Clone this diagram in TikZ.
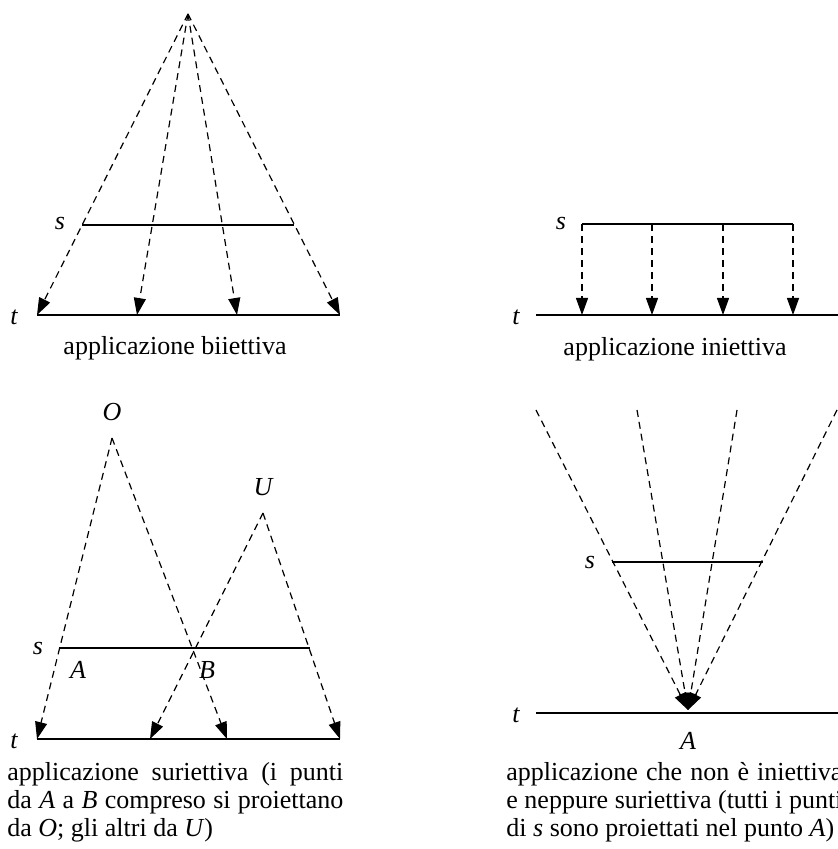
\documentclass[tikz,border=0pt]{standalone}
\usepackage{fontspec}
\setmainfont{Liberation Serif}
\usetikzlibrary{arrows.meta}

\newcommand{\testo}{\fontsize{13}{14}\selectfont}
\tikzset{
  proj/.style={dash pattern=on 3.5pt off 2.5pt, line width=0.6pt, -{Triangle[length=8.5pt,width=6pt]}},
  retta/.style={line width=1.3pt},
  lbl/.style={inner sep=0pt, font=\testo\itshape},
  didascalia/.style={inner sep=0pt, text width=168pt, align=justify, anchor=north west},
}

\begin{document}
\begin{tikzpicture}[x=0.5pt, y=-0.5pt, font=\testo]
  \useasboundingbox (0,0) rectangle (838,849);

  % Applicazione biiettiva
  \coordinate (V) at (188,14);
  \coordinate (s1a) at (82,225);
  \coordinate (s1b) at (294,225);
  \coordinate (t1a) at (37,315);
  \coordinate (t1b) at (340,315);
  \draw[retta] (s1a) -- (s1b);
  \draw[retta] (t1a) -- (t1b);
  \foreach \x [count=\i] in {37,137,237,340} {
    \coordinate (p1\i) at (\x,315);
    \draw[proj] (V) -- (p1\i);
  }
  \node[lbl] (ls1) at (60,224) {s};
  \node[lbl] (lt1) at (14,317) {t};
  \node[inner sep=0pt] (cap1) at (175,348) {applicazione biiettiva};

  % Applicazione iniettiva
  \coordinate (s2a) at (582,224);
  \coordinate (s2b) at (793,224);
  \coordinate (t2a) at (536,315);
  \coordinate (t2b) at (850,315);
  \draw[retta] (s2a) -- (s2b);
  \draw[retta] (t2a) -- (t2b);
  \foreach \x [count=\i] in {582,652,723,793} {
    \coordinate (q2\i) at (\x,224);
    \coordinate (p2\i) at (\x,315);
    \draw[proj] (q2\i) -- (p2\i);
  }
  \node[lbl] (ls2) at (561,224) {s};
  \node[lbl] (lt2) at (516,317) {t};
  \node[inner sep=0pt] (cap2) at (675,349) {applicazione iniettiva};

  % Applicazione suriettiva
  \coordinate (O) at (112,438);
  \coordinate (U) at (263,513);
  \coordinate (s3a) at (59,648);
  \coordinate (s3b) at (310,648);
  \coordinate (t3a) at (37,739);
  \coordinate (t3b) at (340,739);
  \draw[retta] (s3a) -- (s3b);
  \draw[retta] (t3a) -- (t3b);
  \coordinate (p31) at (37,739);
  \coordinate (p32) at (227,739);
  \coordinate (p33) at (150,739);
  \coordinate (p34) at (340,739);
  \draw[proj] (O) -- (p31);
  \draw[proj] (O) -- (p32);
  \draw[proj] (U) -- (p33);
  \draw[proj] (U) -- (p34);
  \node[lbl] (lO) at (112,412) {O};
  \node[lbl] (lU) at (263,487) {U};
  \node[lbl] (lA3) at (78,670) {A};
  \node[lbl] (lB3) at (207,670) {B};
  \node[lbl] (ls3) at (38,648) {s};
  \node[lbl] (lt3) at (14,741) {t};
  \node[didascalia] (cap3) at (7,762) {applicazione suriettiva (i punti\linebreak
    da \textit{A} a \textit{B} compreso si proiettano\linebreak
    da \textit{O}; gli altri da \textit{U})};

  % Applicazione ne iniettiva ne suriettiva
  \coordinate (A4) at (688,710);
  \coordinate (s4a) at (612,562);
  \coordinate (s4b) at (763,562);
  \coordinate (t4a) at (536,713);
  \coordinate (t4b) at (850,713);
  \draw[retta] (s4a) -- (s4b);
  \draw[retta] (t4a) -- (t4b);
  \foreach \x [count=\i] in {536,637,737,837} {
    \coordinate (q4\i) at (\x,410);
    \draw[proj] (q4\i) -- (A4);
  }
  \node[lbl] (ls4) at (590,562) {s};
  \node[lbl] (lt4) at (516,715) {t};
  \node[lbl] (lA4) at (688,741) {A};
  \node[didascalia] (cap4) at (506,762) {applicazione che non è iniettiva\linebreak
    e neppure suriettiva (tutti i punti\linebreak
    di \textit{s} sono proiettati nel punto \textit{A})};
\end{tikzpicture}
\end{document}
